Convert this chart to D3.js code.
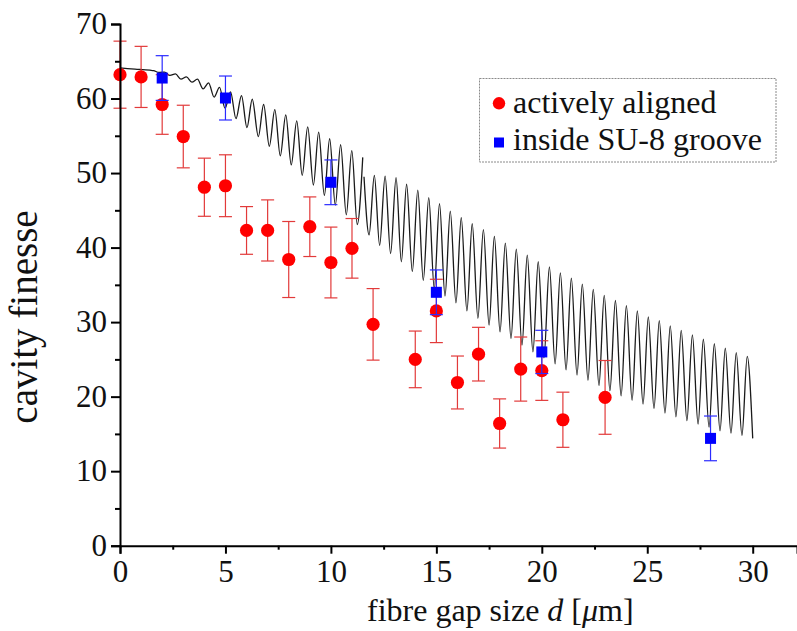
<!DOCTYPE html>
<html>
<head>
<meta charset="utf-8">
<script src="https://cdn.jsdelivr.net/npm/d3@7"></script>
<style>
  html, body { margin: 0; padding: 0; background: #fff; }
  svg { display: block; }
  text { font-family: "Liberation Serif", "Times New Roman", serif; fill: #111; }
</style>
</head>
<body>
<svg id="chart" width="797" height="631"></svg>
<script>
// Measured finesse, actively aligned fibres
const gapAligned = [0, 1, 2, 3, 4, 5, 6, 7, 8, 9, 10, 11, 12, 14, 15, 16, 17, 18, 19, 20, 21, 23];
const finesseAligned = [63.2, 62.9, 59.2, 54.9, 48.1, 48.3, 42.3, 42.3, 38.4, 42.8, 38.0, 39.9, 29.7, 25.0, 31.5, 21.9, 25.7, 16.4, 23.7, 23.5, 16.9, 19.9];
const errAligned = [4.5, 4.1, 4.0, 4.2, 3.9, 4.15, 3.2, 4.1, 5.1, 4.0, 4.75, 4.0, 4.8, 3.8, 4.25, 3.55, 3.6, 3.3, 4.3, 4.0, 3.7, 4.95];

// Measured finesse, fibres inside the SU-8 groove
const gapGroove = [2, 5, 10, 15, 20, 28];
const finesseGroove = [62.75, 60.07, 48.76, 34.0, 26.0, 14.4];
const errGroove = [3.0, 2.95, 3.0, 3.0, 2.9, 3.0];

// Simulated finesse: extrema of the fringe pattern, first run
const simGap1 = [0, 0.71, 1.42, 1.59, 1.85, 2.11, 2.37, 2.63, 2.89, 3.15, 3.41, 3.67, 3.94, 4.20, 4.46, 4.72, 4.98,
  5.24, 5.50, 5.76, 6.02, 6.27, 6.56, 6.81, 7.08, 7.34, 7.60, 7.86, 8.12, 8.38, 8.64, 8.90, 9.17, 9.42, 9.69,
  9.94, 10.21, 10.46, 10.73, 10.99, 11.25, 11.51];
const simFinesse1 = [64.1, 63.95, 63.8, 63.75, 63.5, 63.55, 63.1, 63.3, 62.6, 62.9, 62.2, 62.6, 61.3, 62.1, 60.2, 61.5, 58.7,
  60.9, 57.3, 60.4, 56.1, 59.9, 54.9, 59.2, 53.6, 58.5, 52.3, 57.8, 51.1, 57.0, 49.7, 56.2, 48.4, 55.5, 47.0,
  54.6, 45.7, 53.8, 44.4, 53.0, 43.1, 52.1];

// Simulated finesse: extrema of the fringe pattern, second run
const simGap2 = [11.57, 11.81, 12.06, 12.31, 12.57, 12.83, 13.09, 13.34, 13.59, 13.86, 14.12, 14.38, 14.64, 14.90,
  15.15, 15.41, 15.66, 15.93, 16.18, 16.45, 16.70, 16.97, 17.23, 17.50, 17.75, 18.02, 18.27, 18.54, 18.79, 19.06,
  19.31, 19.58, 19.83, 20.10, 20.36, 20.63, 20.88, 21.15, 21.40, 21.67, 21.92, 22.19, 22.44, 22.71, 22.96, 23.23,
  23.49, 23.76, 24.01, 24.28, 24.53, 24.80, 25.05, 25.32, 25.57, 25.84, 26.09, 26.36, 26.61, 26.88, 27.14, 27.41,
  27.66, 27.93, 28.18, 28.45, 28.70, 28.97, 29.22, 29.49, 29.74, 30.00];
const simFinesse2 = [49.5, 41.7, 49.7, 40.3, 49.6, 39.2, 49.4, 38.1, 48.5, 36.8, 47.7, 35.6, 46.7, 34.5,
  45.9, 33.5, 44.9, 32.6, 44.0, 31.5, 43.2, 30.5, 42.4, 29.6, 41.5, 28.7, 40.6, 27.8, 39.8, 26.9,
  39.0, 26.0, 38.1, 25.2, 37.4, 24.4, 36.6, 23.6, 35.9, 22.9, 35.1, 22.2, 34.4, 21.5, 33.6, 20.8,
  32.9, 20.1, 32.2, 19.5, 31.5, 19.0, 30.7, 18.4, 30.2, 17.8, 29.5, 17.3, 28.9, 16.8, 28.3, 16.3,
  27.7, 15.9, 27.1, 15.4, 26.5, 15.1, 25.9, 14.8, 25.4, 14.4];

// Axis ticks
const xTicks = [0, 5, 10, 15, 20, 25, 30];
const xMinorTicks = [2.5, 7.5, 12.5, 17.5, 22.5, 27.5];
const yTicks = [0, 10, 20, 30, 40, 50, 60, 70];
const yMinorTicks = [5, 15, 25, 35, 45, 55, 65];

const legendLabels = ["actively aligned", "inside SU-8 groove"];

const svg = d3.select("#chart");

const x = d3.scaleLinear().domain([0, 32.1]).range([120, 797]);
const y = d3.scaleLinear().domain([0, 70]).range([545.7, 24]);

const red = "#ff0000";
const redBar = "#e23a3a";
const blue = "#0000ff";
const blueBar = "#2b2bff";

// Simulated curve
const line = d3.line()
  .x(d => x(d[0]))
  .y(d => y(d[1]))
  .curve(d3.curveMonotoneX);

[[simGap1, simFinesse1], [simGap2, simFinesse2]].forEach(([g, f]) => {
  svg.append("path")
    .attr("d", line(d3.zip(g, f)))
    .attr("fill", "none")
    .attr("stroke", "#1a1a1a")
    .attr("stroke-width", 1.3);
});

// Error bars
function errorBars(gaps, vals, errs, color) {
  const g = svg.append("g").attr("stroke", color).attr("stroke-width", 1.2).attr("fill", "none");
  gaps.forEach((gx, i) => {
    const cx = x(gx), top = y(vals[i] + errs[i]), bot = y(vals[i] - errs[i]);
    g.append("line").attr("x1", cx).attr("x2", cx).attr("y1", top).attr("y2", bot);
    g.append("line").attr("x1", cx - 6.5).attr("x2", cx + 6.5).attr("y1", top).attr("y2", top);
    g.append("line").attr("x1", cx - 6.5).attr("x2", cx + 6.5).attr("y1", bot).attr("y2", bot);
  });
}

errorBars(gapAligned, finesseAligned, errAligned, redBar);
svg.append("g").selectAll("circle")
  .data(d3.zip(gapAligned, finesseAligned))
  .join("circle")
  .attr("cx", d => x(d[0]))
  .attr("cy", d => y(d[1]))
  .attr("r", 6.6)
  .attr("fill", red);

errorBars(gapGroove, finesseGroove, errGroove, blueBar);
svg.append("g").selectAll("rect")
  .data(d3.zip(gapGroove, finesseGroove))
  .join("rect")
  .attr("x", d => x(d[0]) - 5.5)
  .attr("y", d => y(d[1]) - 5.5)
  .attr("width", 11)
  .attr("height", 11)
  .attr("fill", blue);

// Axes
const xAxis = svg.append("g").attr("transform", "translate(0,545.7)");
xAxis.call(d3.axisBottom(x).tickValues(xTicks).tickSize(8).tickFormat(d3.format("d")));
xAxis.append("g").call(d3.axisBottom(x).tickValues(xMinorTicks).tickSize(4).tickFormat(""))
  .select(".domain").remove();
xAxis.selectAll(".domain").attr("stroke", "#000").attr("stroke-width", 2);
xAxis.selectAll(".tick line").attr("stroke", "#000").attr("stroke-width", 2);
xAxis.selectAll(".tick text")
  .attr("font-family", "Liberation Serif")
  .attr("font-size", 31)
  .attr("fill", "#111")
  .attr("y", 36)
  .attr("dy", 0);

const yAxis = svg.append("g").attr("transform", "translate(120,0)");
yAxis.call(d3.axisLeft(y).tickValues(yTicks).tickSize(9).tickFormat(d3.format("d")));
yAxis.append("g").call(d3.axisLeft(y).tickValues(yMinorTicks).tickSize(5).tickFormat(""))
  .select(".domain").remove();
yAxis.selectAll(".domain").attr("stroke", "#000").attr("stroke-width", 2);
yAxis.selectAll(".tick line").attr("stroke", "#000").attr("stroke-width", 2);
yAxis.selectAll(".tick text")
  .attr("font-family", "Liberation Serif")
  .attr("font-size", 31)
  .attr("fill", "#111")
  .attr("x", -13)
  .attr("dy", 9.5);

// Axis titles
svg.append("text")
  .attr("transform", "translate(37,317) rotate(-90)")
  .attr("text-anchor", "middle")
  .attr("font-size", 39)
  .text("cavity finesse");

const xt = svg.append("text")
  .attr("x", 367)
  .attr("y", 621)
  .attr("font-size", 32);
xt.append("tspan").text("fibre gap size ");
xt.append("tspan").attr("font-style", "italic").text("d");
xt.append("tspan").text(" [");
xt.append("tspan").attr("font-style", "italic").text("μ");
xt.append("tspan").text("m]");

// Legend
const lg = svg.append("g");
lg.append("rect")
  .attr("x", 479.5).attr("y", 78.5)
  .attr("width", 296.5).attr("height", 83.5)
  .attr("fill", "#fff")
  .attr("stroke", "#8a8a8a")
  .attr("stroke-width", 1)
  .attr("stroke-dasharray", "2,1");
lg.append("circle").attr("cx", 499).attr("cy", 103.3).attr("r", 6.2).attr("fill", red);
lg.append("rect").attr("x", 494).attr("y", 137.5).attr("width", 10).attr("height", 10).attr("fill", blue);
lg.selectAll("text.lab")
  .data(legendLabels)
  .join("text")
  .attr("class", "lab")
  .attr("x", 513)
  .attr("y", (d, i) => 113 + i * 37)
  .attr("font-size", 32)
  .text(d => d);
</script>
</body>
</html>
